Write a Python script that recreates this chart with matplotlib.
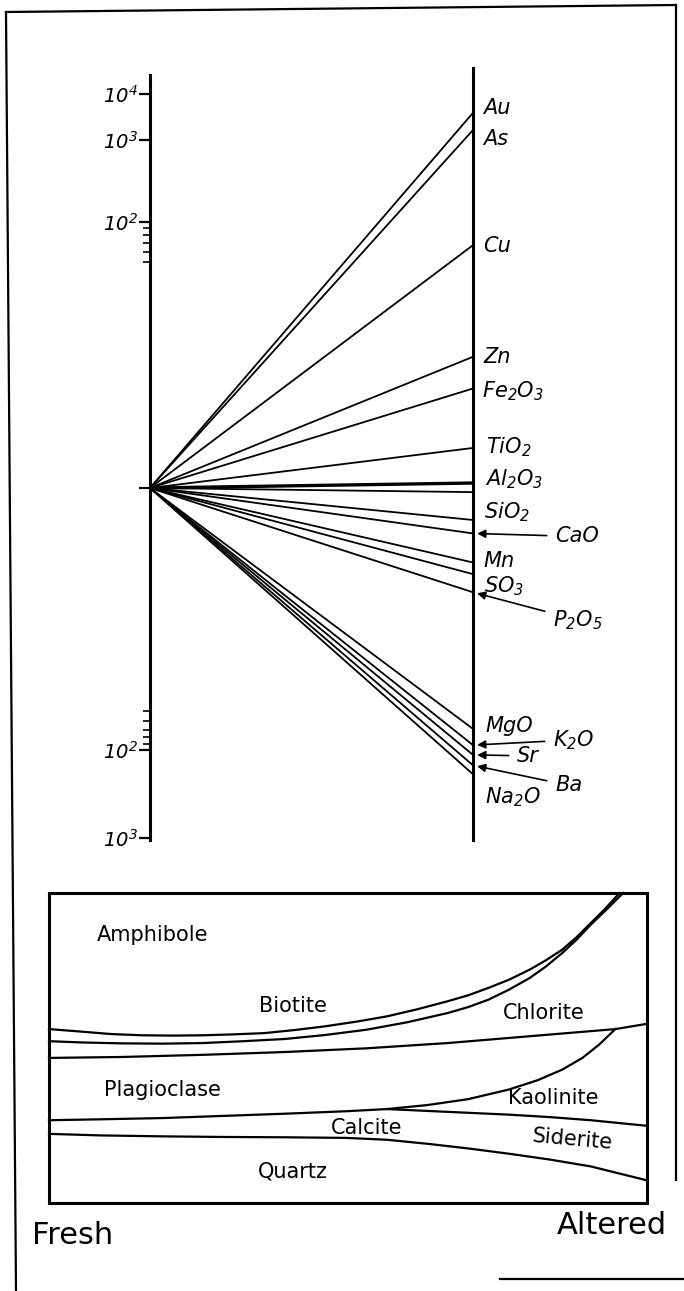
import numpy as np
import matplotlib.pyplot as plt
from matplotlib.lines import Line2D
from matplotlib.ticker import FixedLocator, FixedFormatter, NullFormatter

W, H = 684, 1291

# altered / fresh ratio read at the right-hand axis
elements = ["Au", "As", "Cu", "Zn", "Fe$_2$O$_3$", "TiO$_2$", "Al$_2$O$_3$", "",
            "SiO$_2$", "CaO", "Mn", "SO$_3$", "P$_2$O$_5$",
            "MgO", "K$_2$O", "Sr", "Ba", "Na$_2$O"]
ratios = [3900, 1650, 67, 9.7, 5.6, 2.0, 1.09, 0.93,
          0.57, 0.45, 0.27, 0.22, 0.16,
          0.0145, 0.0109, 0.0088, 0.0067, 0.0053]

major_ticks = [1e4, 1e3, 1e2, 1, 1e-2, 1e-3]
major_labels = ["10$^4$", "10$^3$", "10$^2$", "", "10$^2$", "10$^3$"]
minor_ticks = [90, 80, 70, 60, 50, 1 / 90, 1 / 80, 1 / 70, 1 / 60, 1 / 50]

# mineral boundaries, fresh (x=0) -> altered (x=1), fraction of box height
amph_x = [0, 0.053, 0.104, 0.156, 0.207, 0.258, 0.309, 0.360, 0.411, 0.462, 0.514, 0.565,
          0.616, 0.667, 0.701, 0.735, 0.769, 0.804, 0.831, 0.858, 0.882, 0.906, 0.930, 0.954]
amph_y = [0.561, 0.553, 0.545, 0.541, 0.540, 0.541, 0.544, 0.548, 0.558, 0.570, 0.585, 0.602,
          0.625, 0.651, 0.670, 0.694, 0.720, 0.753, 0.783, 0.817, 0.857, 0.903, 0.949, 1.0]
biot_x = [0, 0.053, 0.121, 0.190, 0.258, 0.326, 0.394, 0.462, 0.531, 0.599, 0.667,
          0.701, 0.735, 0.769, 0.804, 0.831, 0.858, 0.882, 0.906, 0.933, 0.960]
biot_y = [0.522, 0.518, 0.515, 0.514, 0.516, 0.522, 0.529, 0.542, 0.559, 0.583, 0.613,
          0.632, 0.656, 0.688, 0.726, 0.763, 0.806, 0.849, 0.898, 0.948, 1.0]
chl_x = [0, 0.121, 0.258, 0.394, 0.531, 0.667, 0.804, 0.947, 1.0]
chl_y = [0.468, 0.471, 0.478, 0.487, 0.499, 0.516, 0.538, 0.561, 0.578]
plag_x = [0, 0.087, 0.190, 0.292, 0.394, 0.497, 0.565, 0.633, 0.701, 0.769, 0.817,
          0.858, 0.892, 0.920, 0.947]
plag_y = [0.267, 0.270, 0.274, 0.281, 0.288, 0.296, 0.303, 0.316, 0.335, 0.366, 0.396,
          0.430, 0.468, 0.511, 0.561]
kaol_x = [0.565, 0.633, 0.701, 0.769, 0.838, 0.906, 1.0]
kaol_y = [0.303, 0.297, 0.291, 0.285, 0.277, 0.267, 0.249]
qtz_x = [0, 0.087, 0.190, 0.292, 0.394, 0.497, 0.565, 0.633, 0.701, 0.769, 0.838, 0.906, 1.0]
qtz_y = [0.223, 0.218, 0.215, 0.213, 0.212, 0.210, 0.204, 0.191, 0.176, 0.159, 0.140, 0.118, 0.073]

minerals = ["Amphibole", "Biotite", "Chlorite", "Plagioclase", "Kaolinite", "Calcite", "Siderite", "Quartz"]

plt.rcParams["mathtext.default"] = "regular"

# hand-drawn axis: decades are not evenly spaced, so map log10 -> drawing position
knot_log = [-5, -3, -2, 0, 2, 3, 4, 6]
knot_pos = [-526, -350, -262, 0, 266, 348, 394, 486]


def fwd(y):
    y = np.clip(np.asarray(y, dtype=float), 1e-12, None)
    return np.interp(np.log10(y), knot_log, knot_pos)


def inv(p):
    return 10 ** np.interp(p, knot_pos, knot_log)


def fig_box(x0, y0, x1, y1):
    return [x0 / W, 1 - y1 / H, (x1 - x0) / W, (y1 - y0) / H]


fig = plt.figure(figsize=(W / 100, H / 100), dpi=100)

# ---- top: enrichment / depletion diagram
ax = fig.add_axes(fig_box(150, 68, 473, 840))
ax.set_yscale("function", functions=(fwd, inv))
ax.set_xlim(0, 1)
ax.set_ylim(inv(488 - 840), inv(488 - 68))
for side in ["top", "bottom"]:
    ax.spines[side].set_visible(False)
ax.spines["left"].set_linewidth(2.2)
ax.spines["right"].set_linewidth(2.2)
ax.spines["left"].set_bounds(inv(488 - 840), inv(488 - 75))
ax.set_xticks([])
ax.yaxis.set_major_locator(FixedLocator(major_ticks))
ax.yaxis.set_major_formatter(FixedFormatter(major_labels))
ax.yaxis.set_minor_locator(FixedLocator(minor_ticks))
ax.yaxis.set_minor_formatter(NullFormatter())
ax.tick_params(axis="y", which="major", length=8, width=1.6, pad=1, labelsize=14)
ax.tick_params(axis="y", which="minor", length=5, width=1.2)
for lab in ax.get_yticklabels():
    lab.set_style("italic")

for name, r in zip(elements, ratios):
    lw = 2.4 if name.startswith("Al") else 1.3
    ax.plot([0, 1], [1, r], color="black", lw=lw, solid_capstyle="butt", clip_on=False)

# label offsets in pixels from the line end, and whether an arrow is used
label_layout = {
    "Au": (10, -1, False), "As": (10, -15, False), "Cu": (10, -7, False),
    "Zn": (10, -6, False), "Fe$_2$O$_3$": (9, -9, False), "TiO$_2$": (13, -5, False),
    "Al$_2$O$_3$": (12, -2, False), "SiO$_2$": (11, 2, False), "CaO": (82, -9, True),
    "Mn": (10, -5, False), "SO$_3$": (11, -18, False), "P$_2$O$_5$": (80, -34, True),
    "MgO": (12, -3, False), "K$_2$O": (80, -1, True), "Sr": (44, -7, True),
    "Ba": (82, -26, True), "Na$_2$O": (12, -29, False),
}
for name, r in zip(elements, ratios):
    if not name:
        continue
    dx, dy, arrow = label_layout[name]
    props = None
    if arrow:
        props = dict(arrowstyle="-|>", color="black", lw=1.2, shrinkA=4, shrinkB=3,
                     mutation_scale=12)
    ax.annotate(name, xy=(1, r), xytext=(dx, dy), textcoords="offset pixels",
                ha="left", va="baseline", fontsize=15, style="italic",
                arrowprops=props, annotation_clip=False)

# ---- bottom: mineral assemblage panel
bx = fig.add_axes(fig_box(49, 893, 647, 1203))
bx.set_xlim(0, 1)
bx.set_ylim(0, 1)
bx.set_xticks([])
bx.set_yticks([])
for sp in bx.spines.values():
    sp.set_linewidth(2.2)
for xs, ys in [(amph_x, amph_y), (biot_x, biot_y), (chl_x, chl_y),
               (plag_x, plag_y), (kaol_x, kaol_y), (qtz_x, qtz_y)]:
    bx.plot(xs, ys, color="black", lw=1.6, clip_on=False)

mineral_pos = [(0.173, 0.866, 0), (0.408, 0.634, 0), (0.827, 0.613, 0), (0.190, 0.366, 0),
               (0.844, 0.339, 0), (0.531, 0.242, 0), (0.875, 0.204, -5), (0.408, 0.102, 0)]
for name, (x, y, rot) in zip(minerals, mineral_pos):
    bx.text(x, y, name, ha="center", va="center", fontsize=15, rotation=rot)

fig.text(32 / W, 1 - 1235 / H, "Fresh", ha="left", va="center", fontsize=22)
fig.text(667 / W, 1 - 1225 / H, "Altered", ha="right", va="center", fontsize=22)

# page frame of the scanned figure
frame = [([6, 16], [12, 1291]), ([6, 676], [12, 5]), ([676, 676], [5, 1180]), ([500, 684], [1279, 1279])]
for xs, ys in frame:
    fig.add_artist(Line2D([x / W for x in xs], [1 - y / H for y in ys],
                          transform=fig.transFigure, color="black", lw=1.6))

fig.savefig("out.png", dpi=100)
